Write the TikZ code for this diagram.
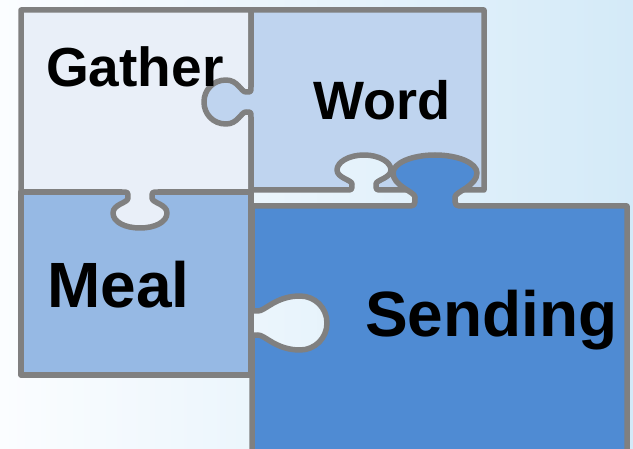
\documentclass[tikz,border=0pt]{standalone}
\usepackage{fontspec}
\setmainfont{Liberation Sans}
\definecolor{pgray}{RGB}{128,128,128}
\definecolor{cgather}{RGB}{233,239,248}
\definecolor{cword}{RGB}{191,212,239}
\definecolor{cmeal}{RGB}{150,185,228}
\definecolor{csend}{RGB}{79,139,211}
\definecolor{bgl}{RGB}{251,253,255}
\definecolor{bgr}{RGB}{212,234,248}
\begin{document}
\begin{tikzpicture}[x=1pt,y=-1pt,
  piece/.style={draw=pgray, line width=5.5pt, line join=round},
  lbl/.style={anchor=base west, inner sep=0pt, text=black, font=\bfseries}]
\useasboundingbox (0,0) rectangle (633,449);
\clip (0,0) rectangle (633,449);
\shade[left color=bgl, right color=bgr] (0,0) rectangle (633,449);
% Meal
\path[piece, fill=cmeal] (21,192) rectangle (251,375);
% Gather with tab into Meal
\path[piece, fill=cgather] (21,10) -- (251,10) -- (251,192) -- (158,192)
  .. controls (152,192) and (152,192) .. (152,198)
  .. controls (152,203) and (167,204) .. (167,213)
  .. controls (167,222) and (155,228) .. (140,228)
  .. controls (125,228) and (113,222) .. (113,213)
  .. controls (113,204) and (128,203) .. (128,198)
  .. controls (128,192) and (128,192) .. (122,192)
  -- (21,192) -- cycle;
% Word with tab into Gather and notch at bottom
\path[piece, fill=cword] (251,10) -- (484,10) -- (484,190) -- (382,190)
  .. controls (376,190) and (376,190) .. (376,184)
  .. controls (376,180) and (391,178) .. (391,170)
  .. controls (391,162) and (379,155) .. (364,155)
  .. controls (349,155) and (337,162) .. (337,170)
  .. controls (337,178) and (352,180) .. (352,184)
  .. controls (352,190) and (352,190) .. (346,190)
  -- (251,190) -- (251,117)
  .. controls (251,112) and (251,112) .. (246,112)
  .. controls (241,112) and (238,124) .. (226,124)
  .. controls (213,124) and (204,114) .. (204,102)
  .. controls (204,90) and (213,80) .. (226,80)
  .. controls (238,80) and (241,92) .. (246,92)
  .. controls (251,92) and (251,92) .. (251,87)
  -- cycle;
% Sending with notch at left and tab at top
\path[piece, fill=csend] (252,470) -- (252,341)
  .. controls (252,335) and (252,335) .. (258,335)
  .. controls (265,335) and (276,350) .. (300,350)
  .. controls (315,350) and (327,338) .. (327,323)
  .. controls (327,308) and (315,296) .. (300,296)
  .. controls (276,296) and (265,311) .. (258,311)
  .. controls (252,311) and (252,311) .. (252,305)
  -- (252,206) -- (406,206)
  .. controls (415,206) and (415,206) .. (415,197)
  .. controls (415,192) and (393,186) .. (393,173)
  .. controls (393,163) and (412,155) .. (435,155)
  .. controls (458,155) and (477,163) .. (477,173)
  .. controls (477,186) and (455,192) .. (455,197)
  .. controls (455,206) and (455,206) .. (464,206)
  -- (627,206) -- (627,470) -- cycle;
% Labels
\node[lbl, font=\bfseries\fontsize{55}{62}\selectfont] (gather) at (46,87) {Gather};
\node[lbl, font=\bfseries\fontsize{54}{62}\selectfont] (word) at (313,120) {Word};
\node[lbl, font=\bfseries\fontsize{64}{72}\selectfont] (meal) at (47,308) {Meal};
\node[lbl, font=\bfseries\fontsize{64}{72}\selectfont] (sending) at (365,337) {Sending};
\end{tikzpicture}
\end{document}
